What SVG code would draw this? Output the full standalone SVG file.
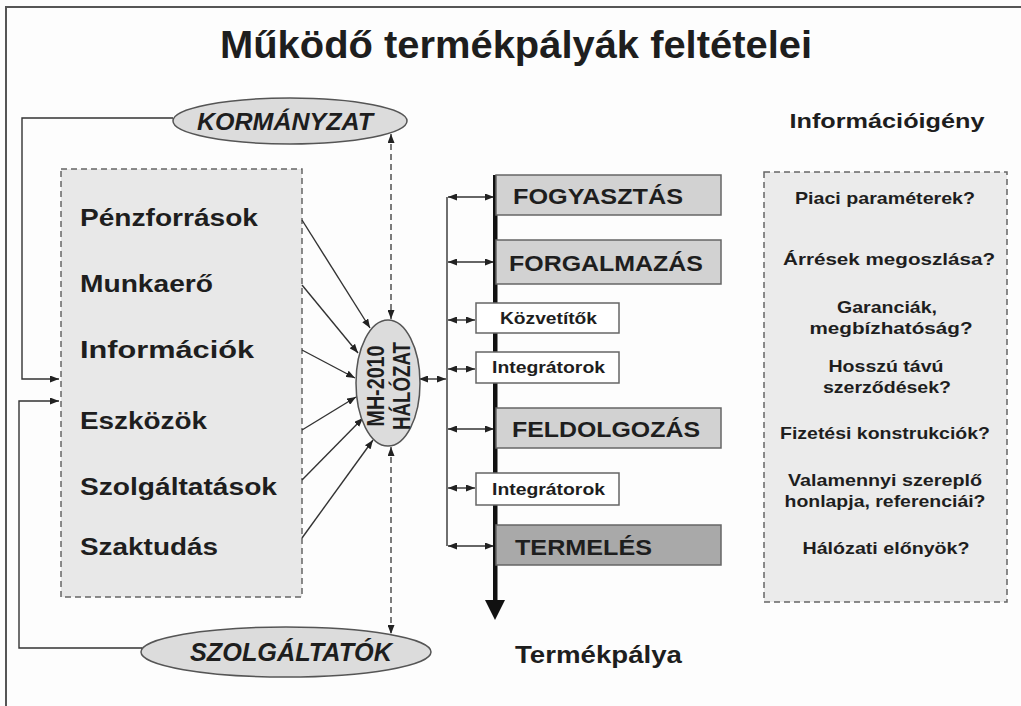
<svg xmlns="http://www.w3.org/2000/svg" width="1021" height="706" viewBox="0 0 1021 706">
<defs>
<marker id="ah" markerUnits="userSpaceOnUse" markerWidth="9" markerHeight="7" refX="9" refY="3.5" orient="auto-start-reverse"><path d="M0,0 L9,3.5 L0,7 z" fill="#222"/></marker>
<style>
text{font-family:"Liberation Sans",Arial,sans-serif;font-weight:bold;fill:#1e1e1e}
.ln{stroke:#333;stroke-width:1.4;fill:none}
.dash{stroke:#444;stroke-width:1.4;fill:none;stroke-dasharray:6,4}
.ell{fill:#dcdcdc;stroke:#555;stroke-width:1.5}
.gbox{fill:#d2d2d2;stroke:#666;stroke-width:1.5}
.wbox{fill:#fff;stroke:#666;stroke-width:1.5}
.dbox{stroke:#666;stroke-width:1.5;stroke-dasharray:6,4}
.item{font-size:23px}
.q{font-size:17px;text-anchor:middle}
.stage{font-size:22px}
.small{font-size:16px}
</style>
</defs>
<rect width="1021" height="706" fill="#fdfdfd"/>
<g id="frame" stroke="#555" stroke-width="2"><line x1="5" y1="7" x2="1021" y2="7"/><line x1="6" y1="6" x2="6" y2="706"/></g>
<text id="title" x="516" y="58" font-size="38" text-anchor="middle" textLength="592" lengthAdjust="spacingAndGlyphs">Működő termékpályák feltételei</text>

<g id="resources">
<rect x="61" y="169" width="241" height="428" fill="#e8e8e8" class="dbox"/>
<text class="item" x="80" y="226" textLength="178" lengthAdjust="spacingAndGlyphs">Pénzforrások</text>
<text class="item" x="80" y="292" textLength="133" lengthAdjust="spacingAndGlyphs">Munkaerő</text>
<text class="item" x="80" y="358" textLength="174" lengthAdjust="spacingAndGlyphs">Információk</text>
<text class="item" x="80" y="429" textLength="127" lengthAdjust="spacingAndGlyphs">Eszközök</text>
<text class="item" x="80" y="495" textLength="197" lengthAdjust="spacingAndGlyphs">Szolgáltatások</text>
<text class="item" x="80" y="555" textLength="138" lengthAdjust="spacingAndGlyphs">Szaktudás</text>
</g>

<g id="kormanyzat">
<ellipse class="ell" cx="290" cy="121" rx="117" ry="23"/>
<text x="285" y="130" font-size="23" font-style="italic" text-anchor="middle" textLength="176" lengthAdjust="spacingAndGlyphs">KORMÁNYZAT</text>
</g>
<g id="szolgaltatok">
<ellipse class="ell" cx="286" cy="652" rx="145" ry="25"/>
<text x="291" y="661" font-size="25" font-style="italic" text-anchor="middle" textLength="202" lengthAdjust="spacingAndGlyphs">SZOLGÁLTATÓK</text>
</g>

<g id="connectors">
<polyline class="ln" points="173,118 22,118 22,379 59,379" marker-end="url(#ah)"/>
<polyline class="ln" points="142,648 19,648 19,401 59,401" marker-end="url(#ah)"/>
<line class="dash" x1="391" y1="134" x2="391" y2="319" marker-start="url(#ah)" marker-end="url(#ah)"/>
<line class="dash" x1="391" y1="447" x2="391" y2="634" marker-start="url(#ah)" marker-end="url(#ah)"/>
<line class="ln" x1="302" y1="220" x2="370" y2="328" marker-end="url(#ah)"/>
<line class="ln" x1="302" y1="285" x2="358" y2="353" marker-end="url(#ah)"/>
<line class="ln" x1="302" y1="350" x2="355" y2="378" marker-end="url(#ah)"/>
<line class="ln" x1="302" y1="430" x2="356" y2="397" marker-end="url(#ah)"/>
<line class="ln" x1="302" y1="480" x2="363" y2="418" marker-end="url(#ah)"/>
<line class="ln" x1="302" y1="538" x2="373" y2="440" marker-end="url(#ah)"/>
<line class="ln" x1="419" y1="379" x2="446" y2="379" marker-start="url(#ah)" marker-end="url(#ah)"/>
<line class="ln" x1="447" y1="197" x2="447" y2="546"/>
<line class="ln" x1="448" y1="197" x2="494" y2="197" marker-start="url(#ah)" marker-end="url(#ah)"/>
<line class="ln" x1="448" y1="262" x2="494" y2="262" marker-start="url(#ah)" marker-end="url(#ah)"/>
<line class="ln" x1="448" y1="320" x2="475" y2="320" marker-start="url(#ah)" marker-end="url(#ah)"/>
<line class="ln" x1="448" y1="369" x2="475" y2="369" marker-start="url(#ah)" marker-end="url(#ah)"/>
<line class="ln" x1="448" y1="429" x2="494" y2="429" marker-start="url(#ah)" marker-end="url(#ah)"/>
<line class="ln" x1="448" y1="488" x2="475" y2="488" marker-start="url(#ah)" marker-end="url(#ah)"/>
<line class="ln" x1="448" y1="546" x2="494" y2="546" marker-start="url(#ah)" marker-end="url(#ah)"/>
</g>

<g id="mh2010">
<ellipse class="ell" cx="388" cy="383" rx="32" ry="63"/>
<text transform="translate(384,386) rotate(-90)" font-size="24" text-anchor="middle" textLength="81" lengthAdjust="spacingAndGlyphs">MH-2010</text>
<text transform="translate(410,386) rotate(-90)" font-size="24" text-anchor="middle" textLength="88" lengthAdjust="spacingAndGlyphs">HÁLÓZAT</text>
</g>

<g id="termekpalya">
<rect x="493" y="175" width="4.5" height="427" fill="#111"/>
<polygon points="485,600 505,600 495,620" fill="#111"/>
<text x="515" y="663" font-size="24" textLength="167" lengthAdjust="spacingAndGlyphs">Termékpálya</text>
</g>

<g id="fogyasztas"><rect class="gbox" x="496" y="175" width="225" height="40"/><text class="stage" x="513" y="204" textLength="170" lengthAdjust="spacingAndGlyphs">FOGYASZTÁS</text></g>
<g id="forgalmazas"><rect class="gbox" x="496" y="240" width="225" height="44"/><text class="stage" x="509" y="271" textLength="194" lengthAdjust="spacingAndGlyphs">FORGALMAZÁS</text></g>
<g id="kozvetitok"><rect class="wbox" x="476" y="303" width="143" height="30"/><text class="small" x="500" y="324" textLength="97" lengthAdjust="spacingAndGlyphs">Közvetítők</text></g>
<g id="integratorok1"><rect class="wbox" x="476" y="352" width="143" height="31"/><text class="small" x="492" y="373" textLength="113" lengthAdjust="spacingAndGlyphs">Integrátorok</text></g>
<g id="feldolgozas"><rect class="gbox" x="496" y="408" width="225" height="40"/><text class="stage" x="512" y="437" textLength="188" lengthAdjust="spacingAndGlyphs">FELDOLGOZÁS</text></g>
<g id="integratorok2"><rect class="wbox" x="476" y="473" width="143" height="32"/><text class="small" x="492" y="495" textLength="113" lengthAdjust="spacingAndGlyphs">Integrátorok</text></g>
<g id="termeles"><rect class="gbox" x="496" y="525" width="225" height="40" fill="#a9a9a9" style="fill:#a9a9a9"/><text class="stage" x="515" y="555" textLength="137" lengthAdjust="spacingAndGlyphs">TERMELÉS</text></g>

<g id="informacioigeny">
<text x="887" y="128" font-size="21" text-anchor="middle" textLength="195" lengthAdjust="spacingAndGlyphs">Információigény</text>
<rect x="764" y="172" width="243" height="430" fill="#ebebeb" class="dbox"/>
<text class="q" x="885" y="204" textLength="180" lengthAdjust="spacingAndGlyphs">Piaci paraméterek?</text>
<text class="q" x="889" y="265" textLength="212" lengthAdjust="spacingAndGlyphs">Árrések megoszlása?</text>
<text class="q" x="887" y="313" textLength="100" lengthAdjust="spacingAndGlyphs">Garanciák,</text>
<text class="q" x="891" y="334" textLength="163" lengthAdjust="spacingAndGlyphs">megbízhatóság?</text>
<text class="q" x="886" y="372" textLength="115" lengthAdjust="spacingAndGlyphs">Hosszú távú</text>
<text class="q" x="887" y="393" textLength="128" lengthAdjust="spacingAndGlyphs">szerződések?</text>
<text class="q" x="885" y="439" textLength="210" lengthAdjust="spacingAndGlyphs">Fizetési konstrukciók?</text>
<text class="q" x="885" y="486" textLength="194" lengthAdjust="spacingAndGlyphs">Valamennyi szereplő</text>
<text class="q" x="885" y="507" textLength="201" lengthAdjust="spacingAndGlyphs">honlapja, referenciái?</text>
<text class="q" x="886" y="554" textLength="167" lengthAdjust="spacingAndGlyphs">Hálózati előnyök?</text>
</g>
</svg>
